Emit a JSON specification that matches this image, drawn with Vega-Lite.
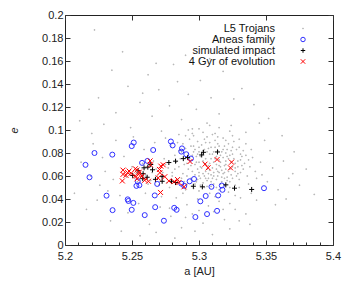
{
 "$schema": "https://vega.github.io/schema/vega-lite/v6.json",
 "width": 268, "height": 230,
 "autosize": "none",
 "padding": {"left": 65, "top": 15, "right": 21, "bottom": 39},
 "config": {
  "view": {"stroke": "#222", "strokeWidth": 1},
  "font": "Liberation Sans",
  "axis": {"labelFont": "Liberation Sans", "labelFontSize": 11, "labelColor": "#222", "titleFont": "Liberation Sans", "titleFontSize": 11, "titleFontWeight": "normal", "titleColor": "#222", "grid": false, "domain": false, "tickColor": "#333", "labelOverlap": false, "labelFlush": false}
 },
 "datasets": {"pts": [
  {"s":"L5 Trojans","a":5.235,"e":0.152},{"s":"L5 Trojans","a":5.262,"e":0.148},{"s":"L5 Trojans","a":5.281,"e":0.157},{"s":"L5 Trojans","a":5.301,"e":0.143},{"s":"L5 Trojans","a":5.318,"e":0.151},{"s":"L5 Trojans","a":5.247,"e":0.138},{"s":"L5 Trojans","a":5.27,"e":0.135},{"s":"L5 Trojans","a":5.292,"e":0.131},{"s":"L5 Trojans","a":5.309,"e":0.128},{"s":"L5 Trojans","a":5.332,"e":0.136},{"s":"L5 Trojans","a":5.225,"e":0.128},{"s":"L5 Trojans","a":5.256,"e":0.124},{"s":"L5 Trojans","a":5.278,"e":0.121},{"s":"L5 Trojans","a":5.298,"e":0.118},{"s":"L5 Trojans","a":5.315,"e":0.114},{"s":"L5 Trojans","a":5.341,"e":0.122},{"s":"L5 Trojans","a":5.238,"e":0.115},{"s":"L5 Trojans","a":5.265,"e":0.112},{"s":"L5 Trojans","a":5.287,"e":0.109},{"s":"L5 Trojans","a":5.306,"e":0.106},{"s":"L5 Trojans","a":5.324,"e":0.104},{"s":"L5 Trojans","a":5.352,"e":0.11},{"s":"L5 Trojans","a":5.229,"e":0.105},{"s":"L5 Trojans","a":5.249,"e":0.102},{"s":"L5 Trojans","a":5.272,"e":0.099},{"s":"L5 Trojans","a":5.295,"e":0.101},{"s":"L5 Trojans","a":5.312,"e":0.097},{"s":"L5 Trojans","a":5.335,"e":0.098},{"s":"L5 Trojans","a":5.362,"e":0.095},{"s":"L5 Trojans","a":5.243,"e":0.168},{"s":"L5 Trojans","a":5.308,"e":0.162},{"s":"L5 Trojans","a":5.218,"e":0.118},{"s":"L5 Trojans","a":5.284,"e":0.142},{"s":"L5 Trojans","a":5.326,"e":0.127},{"s":"L5 Trojans","a":5.258,"e":0.132},{"s":"L5 Trojans","a":5.345,"e":0.106},{"s":"L5 Trojans","a":5.22,"e":0.097},{"s":"L5 Trojans","a":5.268,"e":0.158},{"s":"L5 Trojans","a":5.29,"e":0.165},{"s":"L5 Trojans","a":5.211,"e":0.108},{"s":"L5 Trojans","a":5.222,"e":0.187},
  {"s":"L5 Trojans","a":5.288,"e":0.062},{"s":"L5 Trojans","a":5.291,"e":0.071},{"s":"L5 Trojans","a":5.294,"e":0.058},{"s":"L5 Trojans","a":5.297,"e":0.083},{"s":"L5 Trojans","a":5.299,"e":0.066},{"s":"L5 Trojans","a":5.301,"e":0.077},{"s":"L5 Trojans","a":5.303,"e":0.054},{"s":"L5 Trojans","a":5.305,"e":0.089},{"s":"L5 Trojans","a":5.307,"e":0.069},{"s":"L5 Trojans","a":5.309,"e":0.061},{"s":"L5 Trojans","a":5.311,"e":0.081},{"s":"L5 Trojans","a":5.313,"e":0.057},{"s":"L5 Trojans","a":5.315,"e":0.074},{"s":"L5 Trojans","a":5.317,"e":0.065},{"s":"L5 Trojans","a":5.319,"e":0.086},{"s":"L5 Trojans","a":5.321,"e":0.059},{"s":"L5 Trojans","a":5.323,"e":0.078},{"s":"L5 Trojans","a":5.325,"e":0.068},{"s":"L5 Trojans","a":5.327,"e":0.052},{"s":"L5 Trojans","a":5.329,"e":0.073},{"s":"L5 Trojans","a":5.331,"e":0.063},{"s":"L5 Trojans","a":5.333,"e":0.082},{"s":"L5 Trojans","a":5.286,"e":0.075},{"s":"L5 Trojans","a":5.29,"e":0.084},{"s":"L5 Trojans","a":5.293,"e":0.092},{"s":"L5 Trojans","a":5.296,"e":0.049},{"s":"L5 Trojans","a":5.298,"e":0.072},{"s":"L5 Trojans","a":5.3,"e":0.063},{"s":"L5 Trojans","a":5.302,"e":0.087},{"s":"L5 Trojans","a":5.304,"e":0.071},{"s":"L5 Trojans","a":5.306,"e":0.056},{"s":"L5 Trojans","a":5.308,"e":0.079},{"s":"L5 Trojans","a":5.31,"e":0.067},{"s":"L5 Trojans","a":5.312,"e":0.091},{"s":"L5 Trojans","a":5.314,"e":0.064},{"s":"L5 Trojans","a":5.316,"e":0.053},{"s":"L5 Trojans","a":5.318,"e":0.076},{"s":"L5 Trojans","a":5.32,"e":0.07},{"s":"L5 Trojans","a":5.322,"e":0.088},{"s":"L5 Trojans","a":5.324,"e":0.061},{"s":"L5 Trojans","a":5.326,"e":0.075},{"s":"L5 Trojans","a":5.328,"e":0.083},{"s":"L5 Trojans","a":5.33,"e":0.057},{"s":"L5 Trojans","a":5.332,"e":0.069},{"s":"L5 Trojans","a":5.289,"e":0.055},{"s":"L5 Trojans","a":5.292,"e":0.066},{"s":"L5 Trojans","a":5.295,"e":0.078},{"s":"L5 Trojans","a":5.297,"e":0.061},{"s":"L5 Trojans","a":5.299,"e":0.09},{"s":"L5 Trojans","a":5.301,"e":0.058},{"s":"L5 Trojans","a":5.303,"e":0.073},{"s":"L5 Trojans","a":5.305,"e":0.064},{"s":"L5 Trojans","a":5.307,"e":0.084},{"s":"L5 Trojans","a":5.309,"e":0.051},{"s":"L5 Trojans","a":5.311,"e":0.072},{"s":"L5 Trojans","a":5.313,"e":0.066},{"s":"L5 Trojans","a":5.315,"e":0.086},{"s":"L5 Trojans","a":5.317,"e":0.059},{"s":"L5 Trojans","a":5.319,"e":0.069},{"s":"L5 Trojans","a":5.321,"e":0.077},{"s":"L5 Trojans","a":5.323,"e":0.055},{"s":"L5 Trojans","a":5.325,"e":0.085},{"s":"L5 Trojans","a":5.327,"e":0.067},{"s":"L5 Trojans","a":5.329,"e":0.062},{"s":"L5 Trojans","a":5.331,"e":0.079},{"s":"L5 Trojans","a":5.334,"e":0.071},{"s":"L5 Trojans","a":5.336,"e":0.06},{"s":"L5 Trojans","a":5.338,"e":0.068},{"s":"L5 Trojans","a":5.34,"e":0.076},{"s":"L5 Trojans","a":5.342,"e":0.064},{"s":"L5 Trojans","a":5.285,"e":0.068},{"s":"L5 Trojans","a":5.287,"e":0.081},{"s":"L5 Trojans","a":5.291,"e":0.053},{"s":"L5 Trojans","a":5.294,"e":0.069},{"s":"L5 Trojans","a":5.296,"e":0.086},{"s":"L5 Trojans","a":5.298,"e":0.055},{"s":"L5 Trojans","a":5.3,"e":0.081},{"s":"L5 Trojans","a":5.302,"e":0.067},{"s":"L5 Trojans","a":5.304,"e":0.06},{"s":"L5 Trojans","a":5.306,"e":0.094},{"s":"L5 Trojans","a":5.308,"e":0.065},{"s":"L5 Trojans","a":5.31,"e":0.058},{"s":"L5 Trojans","a":5.312,"e":0.075},{"s":"L5 Trojans","a":5.314,"e":0.082},{"s":"L5 Trojans","a":5.316,"e":0.068},{"s":"L5 Trojans","a":5.318,"e":0.062},{"s":"L5 Trojans","a":5.32,"e":0.08},{"s":"L5 Trojans","a":5.322,"e":0.064},{"s":"L5 Trojans","a":5.324,"e":0.072},{"s":"L5 Trojans","a":5.326,"e":0.09},{"s":"L5 Trojans","a":5.328,"e":0.06},{"s":"L5 Trojans","a":5.33,"e":0.085},{"s":"L5 Trojans","a":5.332,"e":0.077},{"s":"L5 Trojans","a":5.303,"e":0.098},{"s":"L5 Trojans","a":5.31,"e":0.096},{"s":"L5 Trojans","a":5.318,"e":0.093},{"s":"L5 Trojans","a":5.296,"e":0.095},{"s":"L5 Trojans","a":5.325,"e":0.095},{"s":"L5 Trojans","a":5.3,"e":0.047},{"s":"L5 Trojans","a":5.308,"e":0.045},{"s":"L5 Trojans","a":5.315,"e":0.048},{"s":"L5 Trojans","a":5.322,"e":0.046},{"s":"L5 Trojans","a":5.33,"e":0.05},{"s":"L5 Trojans","a":5.337,"e":0.053},{"s":"L5 Trojans","a":5.343,"e":0.058},{"s":"L5 Trojans","a":5.346,"e":0.072},{"s":"L5 Trojans","a":5.339,"e":0.083},{"s":"L5 Trojans","a":5.335,"e":0.088},{"s":"L5 Trojans","a":5.29,"e":0.048},{"s":"L5 Trojans","a":5.312,"e":0.042},{"s":"L5 Trojans","a":5.327,"e":0.043},{"s":"L5 Trojans","a":5.305,"e":0.07},{"s":"L5 Trojans","a":5.313,"e":0.07},{"s":"L5 Trojans","a":5.32,"e":0.073},{"s":"L5 Trojans","a":5.3,"e":0.072},{"s":"L5 Trojans","a":5.309,"e":0.075},{"s":"L5 Trojans","a":5.316,"e":0.078},{"s":"L5 Trojans","a":5.3,"e":0.06},{"s":"L5 Trojans","a":5.307,"e":0.062},{"s":"L5 Trojans","a":5.314,"e":0.06},
  {"s":"L5 Trojans","a":5.291,"e":0.06},{"s":"L5 Trojans","a":5.293,"e":0.075},{"s":"L5 Trojans","a":5.295,"e":0.064},{"s":"L5 Trojans","a":5.297,"e":0.07},{"s":"L5 Trojans","a":5.299,"e":0.079},{"s":"L5 Trojans","a":5.301,"e":0.068},{"s":"L5 Trojans","a":5.303,"e":0.082},{"s":"L5 Trojans","a":5.305,"e":0.075},{"s":"L5 Trojans","a":5.307,"e":0.058},{"s":"L5 Trojans","a":5.309,"e":0.085},{"s":"L5 Trojans","a":5.311,"e":0.063},{"s":"L5 Trojans","a":5.313,"e":0.077},{"s":"L5 Trojans","a":5.315,"e":0.069},{"s":"L5 Trojans","a":5.317,"e":0.081},{"s":"L5 Trojans","a":5.319,"e":0.063},{"s":"L5 Trojans","a":5.321,"e":0.083},{"s":"L5 Trojans","a":5.323,"e":0.066},{"s":"L5 Trojans","a":5.325,"e":0.079},{"s":"L5 Trojans","a":5.327,"e":0.071},{"s":"L5 Trojans","a":5.296,"e":0.081},{"s":"L5 Trojans","a":5.298,"e":0.077},{"s":"L5 Trojans","a":5.302,"e":0.079},{"s":"L5 Trojans","a":5.304,"e":0.083},{"s":"L5 Trojans","a":5.306,"e":0.081},{"s":"L5 Trojans","a":5.308,"e":0.071},{"s":"L5 Trojans","a":5.31,"e":0.079},{"s":"L5 Trojans","a":5.312,"e":0.085},{"s":"L5 Trojans","a":5.314,"e":0.088},{"s":"L5 Trojans","a":5.316,"e":0.072},{"s":"L5 Trojans","a":5.318,"e":0.083},{"s":"L5 Trojans","a":5.32,"e":0.066},{"s":"L5 Trojans","a":5.322,"e":0.075},{"s":"L5 Trojans","a":5.324,"e":0.082},{"s":"L5 Trojans","a":5.292,"e":0.079},{"s":"L5 Trojans","a":5.294,"e":0.086},{"s":"L5 Trojans","a":5.3,"e":0.085},{"s":"L5 Trojans","a":5.306,"e":0.066},{"s":"L5 Trojans","a":5.303,"e":0.062},{"s":"L5 Trojans","a":5.309,"e":0.055},{"s":"L5 Trojans","a":5.311,"e":0.053},{"s":"L5 Trojans","a":5.313,"e":0.05},{"s":"L5 Trojans","a":5.317,"e":0.055},{"s":"L5 Trojans","a":5.319,"e":0.052},{"s":"L5 Trojans","a":5.321,"e":0.056},{"s":"L5 Trojans","a":5.323,"e":0.05},{"s":"L5 Trojans","a":5.325,"e":0.058},{"s":"L5 Trojans","a":5.301,"e":0.052},{"s":"L5 Trojans","a":5.304,"e":0.05},{"s":"L5 Trojans","a":5.297,"e":0.053},{"s":"L5 Trojans","a":5.306,"e":0.051},{"s":"L5 Trojans","a":5.299,"e":0.057},{"s":"L5 Trojans","a":5.305,"e":0.058},{"s":"L5 Trojans","a":5.311,"e":0.06},{"s":"L5 Trojans","a":5.315,"e":0.063},{"s":"L5 Trojans","a":5.319,"e":0.058},{"s":"L5 Trojans","a":5.327,"e":0.064},{"s":"L5 Trojans","a":5.329,"e":0.068},{"s":"L5 Trojans","a":5.331,"e":0.074},{"s":"L5 Trojans","a":5.333,"e":0.066},{"s":"L5 Trojans","a":5.335,"e":0.078},{"s":"L5 Trojans","a":5.337,"e":0.074},{"s":"L5 Trojans","a":5.304,"e":0.092},{"s":"L5 Trojans","a":5.308,"e":0.089},{"s":"L5 Trojans","a":5.314,"e":0.094},{"s":"L5 Trojans","a":5.32,"e":0.091},{"s":"L5 Trojans","a":5.3,"e":0.101},{"s":"L5 Trojans","a":5.315,"e":0.102},{"s":"L5 Trojans","a":5.292,"e":0.1},{"s":"L5 Trojans","a":5.308,"e":0.104},{"s":"L5 Trojans","a":5.323,"e":0.099},{"s":"L5 Trojans","a":5.33,"e":0.092},{"s":"L5 Trojans","a":5.288,"e":0.088},{"s":"L5 Trojans","a":5.285,"e":0.082},{"s":"L5 Trojans","a":5.289,"e":0.07},{"s":"L5 Trojans","a":5.287,"e":0.058},{"s":"L5 Trojans","a":5.282,"e":0.066},{"s":"L5 Trojans","a":5.28,"e":0.06},{"s":"L5 Trojans","a":5.277,"e":0.067},{"s":"L5 Trojans","a":5.273,"e":0.063},{"s":"L5 Trojans","a":5.269,"e":0.06},{"s":"L5 Trojans","a":5.265,"e":0.063},{"s":"L5 Trojans","a":5.261,"e":0.059},{"s":"L5 Trojans","a":5.257,"e":0.06},{"s":"L5 Trojans","a":5.253,"e":0.062},
  {"s":"L5 Trojans","a":5.248,"e":0.062},{"s":"L5 Trojans","a":5.252,"e":0.058},{"s":"L5 Trojans","a":5.256,"e":0.064},{"s":"L5 Trojans","a":5.26,"e":0.061},{"s":"L5 Trojans","a":5.264,"e":0.056},{"s":"L5 Trojans","a":5.268,"e":0.066},{"s":"L5 Trojans","a":5.272,"e":0.059},{"s":"L5 Trojans","a":5.276,"e":0.054},{"s":"L5 Trojans","a":5.28,"e":0.063},{"s":"L5 Trojans","a":5.284,"e":0.057},{"s":"L5 Trojans","a":5.25,"e":0.068},{"s":"L5 Trojans","a":5.258,"e":0.071},{"s":"L5 Trojans","a":5.266,"e":0.073},{"s":"L5 Trojans","a":5.274,"e":0.075},{"s":"L5 Trojans","a":5.282,"e":0.078},{"s":"L5 Trojans","a":5.27,"e":0.052},{"s":"L5 Trojans","a":5.278,"e":0.05},{"s":"L5 Trojans","a":5.262,"e":0.053},{"s":"L5 Trojans","a":5.254,"e":0.055},{"s":"L5 Trojans","a":5.246,"e":0.059},{"s":"L5 Trojans","a":5.275,"e":0.07},{"s":"L5 Trojans","a":5.283,"e":0.072},{"s":"L5 Trojans","a":5.279,"e":0.086},{"s":"L5 Trojans","a":5.284,"e":0.089},{"s":"L5 Trojans","a":5.285,"e":0.096},{"s":"L5 Trojans","a":5.29,"e":0.095},{"s":"L5 Trojans","a":5.295,"e":0.097},
  {"s":"L5 Trojans","a":5.207,"e":0.045},{"s":"L5 Trojans","a":5.212,"e":0.072},{"s":"L5 Trojans","a":5.216,"e":0.031},{"s":"L5 Trojans","a":5.221,"e":0.088},{"s":"L5 Trojans","a":5.226,"e":0.052},{"s":"L5 Trojans","a":5.23,"e":0.064},{"s":"L5 Trojans","a":5.234,"e":0.021},{"s":"L5 Trojans","a":5.238,"e":0.091},{"s":"L5 Trojans","a":5.241,"e":0.043},{"s":"L5 Trojans","a":5.244,"e":0.077},{"s":"L5 Trojans","a":5.247,"e":0.028},{"s":"L5 Trojans","a":5.251,"e":0.094},{"s":"L5 Trojans","a":5.255,"e":0.036},{"s":"L5 Trojans","a":5.259,"e":0.083},{"s":"L5 Trojans","a":5.263,"e":0.018},{"s":"L5 Trojans","a":5.267,"e":0.089},{"s":"L5 Trojans","a":5.271,"e":0.033},{"s":"L5 Trojans","a":5.275,"e":0.093},{"s":"L5 Trojans","a":5.279,"e":0.025},{"s":"L5 Trojans","a":5.283,"e":0.041},{"s":"L5 Trojans","a":5.287,"e":0.015},{"s":"L5 Trojans","a":5.291,"e":0.035},{"s":"L5 Trojans","a":5.295,"e":0.027},{"s":"L5 Trojans","a":5.299,"e":0.04},{"s":"L5 Trojans","a":5.303,"e":0.019},{"s":"L5 Trojans","a":5.307,"e":0.034},{"s":"L5 Trojans","a":5.311,"e":0.029},{"s":"L5 Trojans","a":5.315,"e":0.038},{"s":"L5 Trojans","a":5.319,"e":0.022},{"s":"L5 Trojans","a":5.323,"e":0.036},{"s":"L5 Trojans","a":5.327,"e":0.031},{"s":"L5 Trojans","a":5.331,"e":0.041},{"s":"L5 Trojans","a":5.335,"e":0.027},{"s":"L5 Trojans","a":5.339,"e":0.045},{"s":"L5 Trojans","a":5.343,"e":0.039},{"s":"L5 Trojans","a":5.347,"e":0.061},{"s":"L5 Trojans","a":5.351,"e":0.055},{"s":"L5 Trojans","a":5.355,"e":0.067},{"s":"L5 Trojans","a":5.359,"e":0.048},{"s":"L5 Trojans","a":5.363,"e":0.073},{"s":"L5 Trojans","a":5.367,"e":0.058},{"s":"L5 Trojans","a":5.371,"e":0.081},{"s":"L5 Trojans","a":5.375,"e":0.052},{"s":"L5 Trojans","a":5.38,"e":0.066},{"s":"L5 Trojans","a":5.386,"e":0.044},{"s":"L5 Trojans","a":5.353,"e":0.082},{"s":"L5 Trojans","a":5.349,"e":0.091},{"s":"L5 Trojans","a":5.357,"e":0.035},{"s":"L5 Trojans","a":5.365,"e":0.04},{"s":"L5 Trojans","a":5.37,"e":0.062},{"s":"L5 Trojans","a":5.228,"e":0.076},{"s":"L5 Trojans","a":5.236,"e":0.057},{"s":"L5 Trojans","a":5.242,"e":0.012},{"s":"L5 Trojans","a":5.256,"e":0.008},{"s":"L5 Trojans","a":5.268,"e":0.011},{"s":"L5 Trojans","a":5.282,"e":0.006},{"s":"L5 Trojans","a":5.297,"e":0.012},{"s":"L5 Trojans","a":5.31,"e":0.009},{"s":"L5 Trojans","a":5.323,"e":0.014},{"s":"L5 Trojans","a":5.338,"e":0.018},{"s":"L5 Trojans","a":5.219,"e":0.06},{"s":"L5 Trojans","a":5.224,"e":0.039},{"s":"L5 Trojans","a":5.232,"e":0.047},{"s":"L5 Trojans","a":5.26,"e":0.045},{"s":"L5 Trojans","a":5.272,"e":0.042},{"s":"L5 Trojans","a":5.288,"e":0.045},{"s":"L5 Trojans","a":5.278,"e":0.032},{"s":"L5 Trojans","a":5.29,"e":0.024},{"s":"L5 Trojans","a":5.3,"e":0.03},{"s":"L5 Trojans","a":5.318,"e":0.031},{"s":"L5 Trojans","a":5.33,"e":0.021},
  {"s":"Aneas family","a":5.222,"e":0.08},{"s":"Aneas family","a":5.2353,"e":0.0786},{"s":"Aneas family","a":5.2153,"e":0.0697},{"s":"Aneas family","a":5.2183,"e":0.0589},{"s":"Aneas family","a":5.2513,"e":0.0891},{"s":"Aneas family","a":5.2498,"e":0.086},{"s":"Aneas family","a":5.2658,"e":0.0826},{"s":"Aneas family","a":5.279,"e":0.09},{"s":"Aneas family","a":5.2803,"e":0.0866},{"s":"Aneas family","a":5.2873,"e":0.084},{"s":"Aneas family","a":5.2868,"e":0.0812},{"s":"Aneas family","a":5.2905,"e":0.0789},{"s":"Aneas family","a":5.294,"e":0.0752},{"s":"Aneas family","a":5.2615,"e":0.0731},{"s":"Aneas family","a":5.2575,"e":0.0714},{"s":"Aneas family","a":5.2543,"e":0.0554},{"s":"Aneas family","a":5.2533,"e":0.0514},{"s":"Aneas family","a":5.2555,"e":0.052},{"s":"Aneas family","a":5.2688,"e":0.0531},{"s":"Aneas family","a":5.267,"e":0.0431},{"s":"Aneas family","a":5.231,"e":0.0429},{"s":"Aneas family","a":5.2468,"e":0.0397},{"s":"Aneas family","a":5.2473,"e":0.0383},{"s":"Aneas family","a":5.251,"e":0.0366},{"s":"Aneas family","a":5.2355,"e":0.0303},{"s":"Aneas family","a":5.2498,"e":0.0306},{"s":"Aneas family","a":5.2595,"e":0.026},{"s":"Aneas family","a":5.2673,"e":0.0329},{"s":"Aneas family","a":5.2738,"e":0.0211},{"s":"Aneas family","a":5.2815,"e":0.0323},{"s":"Aneas family","a":5.2833,"e":0.0306},{"s":"Aneas family","a":5.2868,"e":0.0534},{"s":"Aneas family","a":5.289,"e":0.0514},{"s":"Aneas family","a":5.293,"e":0.0554},{"s":"Aneas family","a":5.2963,"e":0.0574},{"s":"Aneas family","a":5.2973,"e":0.0243},{"s":"Aneas family","a":5.301,"e":0.038},{"s":"Aneas family","a":5.305,"e":0.0426},{"s":"Aneas family","a":5.3093,"e":0.0506},{"s":"Aneas family","a":5.306,"e":0.0269},{"s":"Aneas family","a":5.3135,"e":0.0297},{"s":"Aneas family","a":5.3143,"e":0.0431},{"s":"Aneas family","a":5.317,"e":0.0517},{"s":"Aneas family","a":5.3175,"e":0.048},{"s":"Aneas family","a":5.3485,"e":0.0494},
  {"s":"simulated impact","a":5.3138,"e":0.0809},{"s":"simulated impact","a":5.3033,"e":0.0806},{"s":"simulated impact","a":5.302,"e":0.0783},{"s":"simulated impact","a":5.2915,"e":0.076},{"s":"simulated impact","a":5.2883,"e":0.0751},{"s":"simulated impact","a":5.2825,"e":0.0729},{"s":"simulated impact","a":5.2775,"e":0.0717},{"s":"simulated impact","a":5.264,"e":0.07},{"s":"simulated impact","a":5.2618,"e":0.0677},{"s":"simulated impact","a":5.2653,"e":0.0654},{"s":"simulated impact","a":5.259,"e":0.0671},{"s":"simulated impact","a":5.2583,"e":0.062},{"s":"simulated impact","a":5.258,"e":0.0577},{"s":"simulated impact","a":5.2613,"e":0.0589},{"s":"simulated impact","a":5.2675,"e":0.0571},{"s":"simulated impact","a":5.2725,"e":0.0554},{"s":"simulated impact","a":5.2725,"e":0.0597},{"s":"simulated impact","a":5.2795,"e":0.0554},{"s":"simulated impact","a":5.2825,"e":0.0543},{"s":"simulated impact","a":5.2958,"e":0.0511},{"s":"simulated impact","a":5.3025,"e":0.0506},{"s":"simulated impact","a":5.32,"e":0.0523},{"s":"simulated impact","a":5.3265,"e":0.0494},{"s":"simulated impact","a":5.3393,"e":0.0483},{"s":"simulated impact","a":5.2545,"e":0.0646},{"s":"simulated impact","a":5.2505,"e":0.0605},
  {"s":"4 Gyr of evolution","a":5.2433,"e":0.0651},{"s":"4 Gyr of evolution","a":5.2433,"e":0.0614},{"s":"4 Gyr of evolution","a":5.2428,"e":0.0557},{"s":"4 Gyr of evolution","a":5.2468,"e":0.0629},{"s":"4 Gyr of evolution","a":5.2493,"e":0.0623},{"s":"4 Gyr of evolution","a":5.2525,"e":0.0663},{"s":"4 Gyr of evolution","a":5.2538,"e":0.0652},{"s":"4 Gyr of evolution","a":5.2555,"e":0.0634},{"s":"4 Gyr of evolution","a":5.255,"e":0.0614},{"s":"4 Gyr of evolution","a":5.2575,"e":0.06},{"s":"4 Gyr of evolution","a":5.2525,"e":0.06},{"s":"4 Gyr of evolution","a":5.2595,"e":0.0563},{"s":"4 Gyr of evolution","a":5.2623,"e":0.0554},{"s":"4 Gyr of evolution","a":5.2635,"e":0.0731},{"s":"4 Gyr of evolution","a":5.2638,"e":0.0697},{"s":"4 Gyr of evolution","a":5.2715,"e":0.0686},{"s":"4 Gyr of evolution","a":5.2733,"e":0.0697},{"s":"4 Gyr of evolution","a":5.2705,"e":0.0657},{"s":"4 Gyr of evolution","a":5.2708,"e":0.0629},{"s":"4 Gyr of evolution","a":5.2695,"e":0.0583},{"s":"4 Gyr of evolution","a":5.2745,"e":0.0594},{"s":"4 Gyr of evolution","a":5.2713,"e":0.0457},{"s":"4 Gyr of evolution","a":5.284,"e":0.0569},{"s":"4 Gyr of evolution","a":5.2815,"e":0.0551},{"s":"4 Gyr of evolution","a":5.2888,"e":0.0506},{"s":"4 Gyr of evolution","a":5.2933,"e":0.0726},{"s":"4 Gyr of evolution","a":5.3045,"e":0.0703},{"s":"4 Gyr of evolution","a":5.3068,"e":0.0671},{"s":"4 Gyr of evolution","a":5.3135,"e":0.0743},{"s":"4 Gyr of evolution","a":5.3243,"e":0.072},{"s":"4 Gyr of evolution","a":5.3235,"e":0.0671},{"s":"4 Gyr of evolution","a":5.2478,"e":0.0643},{"s":"4 Gyr of evolution","a":5.2455,"e":0.0606},{"s":"4 Gyr of evolution","a":5.2538,"e":0.0576},{"s":"4 Gyr of evolution","a":5.2775,"e":0.0557},{"s":"4 Gyr of evolution","a":5.285,"e":0.0543}
 ]},
 "data": {"name": "pts"},
 "resolve": {"axis": {"x": "independent", "y": "independent"}},
 "layer": [
  {
   "mark": {"type": "point", "filled": false, "strokeWidth": 1, "opacity": 1, "size": 25},
   "encoding": {
    "x": {"field": "a", "type": "quantitative",
     "scale": {"domain": [5.2, 5.4], "nice": false, "zero": false},
     "axis": {"orient": "bottom", "values": [5.2,5.21,5.22,5.23,5.24,5.25,5.26,5.27,5.28,5.29,5.3,5.31,5.32,5.33,5.34,5.35,5.36,5.37,5.38,5.39,5.4],
      "labelExpr": "abs(datum.value*20 - round(datum.value*20)) < 0.001 ? format(datum.value, '~g') : ''",
      "tickSize": {"condition": {"test": "abs(datum.value*20 - round(datum.value*20)) < 0.001", "value": -5}, "value": -3},
      "labelPadding": 10, "title": "a [AU]", "titlePadding": 2}},
    "y": {"field": "e", "type": "quantitative",
     "scale": {"domain": [0, 0.2], "nice": false},
     "axis": {"values": [0,0.02,0.04,0.06,0.08,0.1,0.12,0.14,0.16,0.18,0.2], "format": "~g", "tickSize": -5, "labelPadding": 7, "title": "e", "titleFontStyle": "italic", "titlePadding": 22}},
    "color": {"field": "s", "type": "nominal",
     "scale": {"domain": ["L5 Trojans", "Aneas family", "simulated impact", "4 Gyr of evolution"], "range": ["#b3b3b3", "#3030ff", "#000000", "#ff0000"]},
     "legend": {"title": null, "orient": "none", "legendX": 232.5, "legendY": 8, "labelAlign": "right", "labelOffset": -33.5, "labelFontSize": 11, "labelFont": "Liberation Sans", "labelColor": "#111", "rowPadding": -1, "symbolStrokeWidth": 1, "symbolSize": 20, "padding": 0}},
    "shape": {"field": "s", "type": "nominal",
     "scale": {"domain": ["L5 Trojans", "Aneas family", "simulated impact", "4 Gyr of evolution"], "range": ["M-0.15,-0.15L0.15,-0.15L0.15,0.15L-0.15,0.15Z", "circle", "M-1,0L1,0M0,-1L0,1", "M-1,-1L1,1M1,-1L-1,1"]},
     "legend": {"title": null}}
   }
  },
  {
   "mark": {"type": "point", "opacity": 0},
   "encoding": {
    "x": {"field": "a", "type": "quantitative", "axis": {"orient": "top", "values": [5.2,5.25,5.3,5.35,5.4], "labels": false, "tickSize": -5, "title": null}},
    "y": {"field": "e", "type": "quantitative", "axis": {"orient": "right", "values": [0,0.02,0.04,0.06,0.08,0.1,0.12,0.14,0.16,0.18,0.2], "labels": false, "tickSize": -5, "title": null}}
   }
  }
 ]
}
